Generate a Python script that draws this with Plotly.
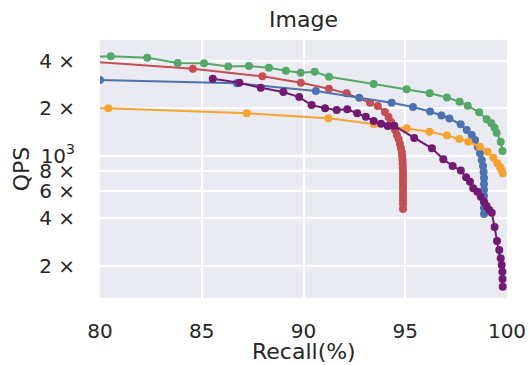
import plotly.graph_objects as go

# ---- data ----
green_recall = [79.0, 80.53, 82.32, 83.82, 85.11, 86.30, 87.32, 88.30, 89.13, 89.86, 90.55, 91.25,
                93.45, 95.07, 96.20, 97.05, 97.67, 98.07, 98.63, 99.00, 99.23, 99.39, 99.49, 99.69, 99.78]
green_qps = [4250, 4277, 4190, 3879, 3860, 3694, 3711, 3620, 3465, 3365, 3415, 3175,
             2852, 2640, 2490, 2342, 2203, 2074, 1886, 1703, 1606, 1506, 1400, 1227, 1071]

red_recall = [79.0, 84.56, 87.98, 89.87, 91.25, 92.12, 93.27, 93.65, 94.00, 94.18, 94.30, 94.40,
              94.50, 94.59, 94.67, 94.74, 94.79, 94.83, 94.85, 94.865, 94.875, 94.88, 94.89, 94.89,
              94.89, 94.89, 94.89, 94.89, 94.89, 94.89, 94.89, 94.89]
red_qps = [4000, 3568, 3192, 2908, 2664, 2490, 2171, 2068, 1894, 1761, 1637, 1543,
           1456, 1353, 1276, 1187, 1119, 1055, 996, 939, 886, 835, 788, 743,
           701, 661, 624, 588, 555, 523, 494, 459]

blue_recall = [80.0, 86.72, 90.61, 92.74, 94.33, 95.38, 96.22, 96.78, 97.17, 97.72, 98.02, 98.27,
               98.43, 98.56, 98.67, 98.76, 98.82, 98.85, 98.87, 98.87, 98.87, 98.87, 98.87, 98.87, 98.87]
blue_qps = [3024, 2882, 2575, 2335, 2171, 2039, 1908, 1800, 1723, 1583, 1456, 1353,
            1258, 1141, 1036, 939, 860, 788, 722, 661, 606, 555, 508, 466, 426]

orange_recall = [79.5, 80.41, 87.21, 91.22, 93.46, 95.07, 96.19, 97.05, 97.66, 98.10, 98.67, 99.05,
                 99.33, 99.52, 99.66, 99.73, 99.79]
orange_qps = [2010, 2000, 1858, 1728, 1590, 1493, 1420, 1344, 1276, 1227, 1141, 1060,
              971, 895, 844, 811, 773]

purple_recall = [85.54, 86.85, 87.90, 89.01, 89.79, 90.40, 91.06, 91.63, 92.15, 92.64, 93.06, 93.45,
                 93.81, 94.14, 94.46, 95.44, 96.31, 96.87, 97.33, 97.73, 97.99, 98.18, 98.34, 98.54,
                 98.71, 98.87, 99.00, 99.13, 99.25, 99.39, 99.51, 99.62, 99.69, 99.74, 99.77, 99.78, 99.79]
purple_qps = [3083, 2908, 2702, 2538, 2358, 2099, 2000, 1951, 1971, 1858, 1769, 1661,
              1597, 1543, 1548, 1295, 1114, 949, 860, 805, 729, 684, 621, 591,
              549, 510, 479, 452, 434, 353, 287, 252, 223, 202, 183, 165, 147]

x_ticks = [80, 85, 90, 95, 100]
y_ticks = [200, 400, 600, 800, 1000, 2000, 4000]
y_ticktext = ["2 ×", "4 ×", "6 ×", "8 ×", "10<sup>3</sup>", "2 ×", "4 ×"]

series = [
    ("green", green_recall, green_qps, "#55a868"),
    ("red", red_recall, red_qps, "#c44e52"),
    ("blue", blue_recall, blue_qps, "#4c72b0"),
    ("orange", orange_recall, orange_qps, "#f5a52f"),
    ("purple", purple_recall, purple_qps, "#721a72"),
]

fig = go.Figure()
for name, xs, ys, col in series:
    fig.add_trace(go.Scatter(
        x=xs, y=ys, mode="lines+markers", name=name,
        line=dict(color=col, width=2),
        marker=dict(color=col, size=8, line=dict(width=0)),
        showlegend=False,
    ))

font_family = "DejaVu Sans"
text_col = "#262626"

fig.update_layout(
    width=529, height=365,
    margin=dict(l=100, r=22, t=40, b=67, autoexpand=False),
    paper_bgcolor="white",
    plot_bgcolor="#eaeaf2",
    font=dict(family=font_family, color=text_col, size=20),
    title=dict(text="Image", x=0.5, xref="paper", y=1 - 19 / 365, yref="container",
               xanchor="center", yanchor="middle", font=dict(size=22, color=text_col)),
)
fig.update_xaxes(
    range=[80, 100], tickvals=x_ticks, ticktext=[str(v) for v in x_ticks],
    showgrid=True, gridcolor="white", gridwidth=1.5, zeroline=False, showline=False,
    ticks="", ticklabelstandoff=19, tickfont=dict(size=20), automargin=False,
)
fig.update_yaxes(
    type="log", range=[2.0965, 3.735], tickvals=y_ticks, ticktext=y_ticktext,
    showgrid=True, gridcolor="white", gridwidth=1.5, zeroline=False, showline=False,
    ticks="", ticklabelstandoff=24, tickfont=dict(size=20), automargin=False,
    title=dict(text="QPS", font=dict(size=22), standoff=3),
)
# x-axis title placed as an annotation so it sits where the reference has it
fig.add_annotation(
    text="Recall(%)", xref="paper", yref="paper", x=0.5, y=-(351.5 - 298) / 258,
    xanchor="center", yanchor="middle", showarrow=False,
    font=dict(size=22, color=text_col, family=font_family),
)

fig.write_html("out.html")
